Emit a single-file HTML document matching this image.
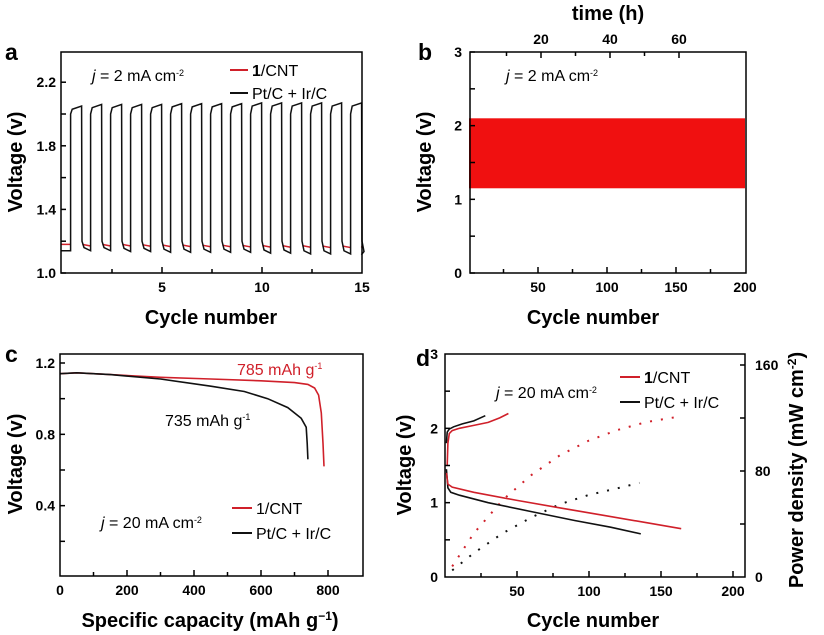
<!DOCTYPE html>
<html><head><meta charset="utf-8"><style>
body{margin:0;background:#fff}
svg{display:block;font-family:"Liberation Sans",Arial,sans-serif}
.t{font-weight:bold;font-size:14px}
.lab{font-weight:bold;font-size:20px}
.pl{font-weight:bold;font-size:23px}
.lg{font-size:16px}
</style></head><body>
<svg id="fig" width="824" height="635" viewBox="0 0 824 635" xmlns="http://www.w3.org/2000/svg"></svg>
<script>
// ---- Panel a data ----
const aCycles=[1,2,3,4,5,6,7,8,9,10,11,12,13,14,15];
const aBlackCharge=[2.05,2.06,2.06,2.06,2.06,2.065,2.065,2.065,2.065,2.07,2.07,2.07,2.07,2.07,2.07];
const aBlackDis=[1.14,1.14,1.135,1.135,1.13,1.13,1.13,1.13,1.13,1.125,1.125,1.12,1.12,1.12,1.115];
const aRedDis=[1.17,1.17,1.17,1.168,1.166,1.166,1.165,1.165,1.164,1.163,1.162,1.162,1.16,1.16,1.16];
const aYTicks=[1.0,1.4,1.8,2.2];
const aXTicks=[5,10,15];
// ---- Panel b data ----
const bBandLow=1.15, bBandHigh=2.1, bCycles=200;
const bYTicks=[0,1,2,3];
const bXTicks=[50,100,150,200];
const bTimeTicks=[20,40,60];
// ---- Panel c data ----
const cRedX=[0,50,150,300,450,600,700,740,760,772,780,785,788];
const cRedY=[1.14,1.145,1.135,1.12,1.11,1.1,1.09,1.08,1.06,1.02,0.92,0.75,0.62];
const cBlackX=[0,50,150,300,450,550,620,680,720,735,738,740];
const cBlackY=[1.14,1.145,1.135,1.11,1.07,1.04,1.0,0.95,0.89,0.84,0.75,0.66];
const cYTicks=[0.4,0.8,1.2];
const cXTicks=[0,200,400,600,800];
// ---- Panel d data ----
const dRedChgX=[1.5,2,3,5,10,20,30,38,44];
const dRedChgY=[1.5,1.8,1.93,1.97,2.0,2.04,2.08,2.14,2.2];
const dBlkChgX=[1,1.5,3,6,12,20,28];
const dBlkChgY=[1.8,1.95,1.99,2.02,2.06,2.1,2.17];
const dRedDisX=[1,2,5,20,50,80,110,140,164];
const dRedDisY=[1.4,1.25,1.21,1.14,1.03,0.93,0.83,0.73,0.65];
const dBlkDisX=[1,2,4,10,30,60,90,115,136];
const dBlkDisY=[1.45,1.2,1.14,1.1,1.0,0.88,0.76,0.67,0.58];
const dRedPowX=[5,20,40,60,80,100,120,140,162];
const dRedPowY=[8,33,58,77,92,103,111,117,121];
const dBlkPowX=[5,20,40,60,80,100,120,135];
const dBlkPowY=[5,18,33,45,55,62,67,71];
const dYTicks=[0,1,2,3];
const dY2Ticks=[0,80,160];
const dXTicks=[50,100,150,200];

const svg=document.getElementById('fig');
const NS='http://www.w3.org/2000/svg';
function el(tag,attrs,parent,text){const e=document.createElementNS(NS,tag);for(const k in attrs)e.setAttribute(k,attrs[k]);if(text!==undefined)e.textContent=text;(parent||svg).appendChild(e);return e;}
function lin(d0,d1,p0,p1){return v=>p0+(v-d0)*(p1-p0)/(d1-d0);}
function pathD(xs,ys,sx,sy){return xs.map((x,i)=>(i?'L':'M')+sx(x).toFixed(1)+','+sy(ys[i]).toFixed(1)).join('');}
const RED='#d0202a';

// ===== Panel a =====
{
const L=61,R=362,T=52,B=273;
const sx=lin(0,15,62,362), sy=lin(1.0,2.39,273,52);
const g=el('g',{},svg);

let pb='M'+L+','+sy(1.14), pr='M'+L+','+sy(1.18)+'L'+sx(0.43)+','+sy(1.18);
pb+='L'+sx(0.43)+','+sy(1.14);
aCycles.forEach((c,i)=>{
 const s=c-0.57, e=s+0.55, n=c+0.43;
 const v=aBlackCharge[i];
 pb+='L'+sx(s)+','+sy(2.0)+'L'+sx(s+0.08)+','+sy(v-0.02)+'L'+sx(e)+','+sy(v);
 const end=Math.min(n,14.97);
 pb+='L'+sx(e+0.02)+','+sy(1.2)+'L'+sx(e+0.12)+','+sy(aBlackDis[i]+0.02)+'L'+sx(end)+','+sy(aBlackDis[i]);
 pr+='M'+sx(e+0.04)+','+sy(aRedDis[i]+0.01)+'L'+sx(end)+','+sy(aRedDis[i]);
});
const r=el('path',{d:pr,fill:'none',stroke:RED,'stroke-width':1.5},g);

const b=el('path',{d:pb,fill:'none',stroke:'#111','stroke-width':1.5},g);

el('rect',{x:L,y:T,width:R-L,height:B-T,fill:'none',stroke:'#000','stroke-width':1.5},g);
[1.0,1.2,1.4,1.6,1.8,2.0,2.2].forEach(v=>el('line',{x1:L,x2:L+5,y1:sy(v),y2:sy(v),stroke:'#000','stroke-width':1.5},g));
aYTicks.forEach(v=>el('text',{x:L-5,y:sy(v)+5,'text-anchor':'end',class:'t'},g,v.toFixed(1)));
[2.5,5,7.5,10,12.5].forEach(v=>el('line',{x1:sx(v),x2:sx(v),y1:B,y2:B-(v%5===0?6:4),stroke:'#000','stroke-width':1.5},g));
aXTicks.forEach(v=>el('text',{x:sx(v),y:B+19,'text-anchor':'middle',class:'t'},g,v));
el('text',{x:211,y:324,'text-anchor':'middle',class:'lab'},g,'Cycle number');
el('text',{x:0,y:0,transform:'translate(22,162) rotate(-90)','text-anchor':'middle',class:'lab'},g,'Voltage (v)');
el('text',{x:5,y:60,class:'pl'},g,'a');
const j=el('text',{x:92,y:81,class:'lg','font-size':'14'},g);j.innerHTML='<tspan font-style="italic">j</tspan> = 2 mA cm<tspan dy="-5" font-size="9">-2</tspan>';
el('line',{x1:230,x2:248,y1:70,y2:70,stroke:RED,'stroke-width':2},g);
const t1=el('text',{x:252,y:76,class:'lg'},g);t1.innerHTML='<tspan font-weight="bold">1</tspan>/CNT';
el('line',{x1:230,x2:248,y1:93,y2:93,stroke:'#111','stroke-width':2},g);
el('text',{x:252,y:99,class:'lg'},g,'Pt/C + Ir/C');
}

// ===== Panel b =====
{
const L=470,R=746,T=52,B=273;
const sx=lin(0,200,469,745), sy=lin(0,3,273,52), st=lin(0,20,472,541);
const g=el('g',{},svg);

const band=el('rect',{x:sx(0),y:sy(bBandHigh),width:sx(bCycles)-sx(0),height:sy(bBandLow)-sy(bBandHigh),fill:'#f01010'},g);

el('rect',{x:L,y:T,width:R-L,height:B-T,fill:'none',stroke:'#000','stroke-width':1.5},g);
[0,0.5,1,1.5,2,2.5,3].forEach(v=>el('line',{x1:L,x2:L+5,y1:sy(v),y2:sy(v),stroke:'#000','stroke-width':1.5},g));
bYTicks.forEach(v=>el('text',{x:L-8,y:sy(v)+5,'text-anchor':'end',class:'t'},g,v));
[25,50,75,100,125,150,175].forEach(v=>el('line',{x1:sx(v),x2:sx(v),y1:B,y2:B-(v%50===0?6:4),stroke:'#000','stroke-width':1.5},g));
bXTicks.forEach(v=>el('text',{x:sx(v),y:B+19,'text-anchor':'middle',class:'t'},g,v));
[10,20,30,40,50,60].forEach(v=>el('line',{x1:st(v),x2:st(v),y1:T,y2:T+(v%20===0?6:4),stroke:'#000','stroke-width':1.5},g));
bTimeTicks.forEach(v=>el('text',{x:st(v),y:T-8,'text-anchor':'middle',class:'t'},g,v));
el('text',{x:608,y:20,'text-anchor':'middle',class:'lab','font-size':'18'},g,'time (h)');
el('text',{x:593,y:324,'text-anchor':'middle',class:'lab'},g,'Cycle number');
el('text',{x:0,y:0,transform:'translate(431,162) rotate(-90)','text-anchor':'middle',class:'lab'},g,'Voltage (v)');
el('text',{x:418,y:60,class:'pl'},g,'b');
const j=el('text',{x:506,y:81,class:'lg','font-size':'14'},g);j.innerHTML='<tspan font-style="italic">j</tspan> = 2 mA cm<tspan dy="-5" font-size="9">-2</tspan>';
}

// ===== Panel c =====
{
const L=60,R=363,T=354,B=576;
const sx=lin(0,200,60,127), sy=lin(0,1.2,577,363);
const g=el('g',{},svg);

const r=el('path',{d:pathD(cRedX,cRedY,sx,sy),fill:'none',stroke:RED,'stroke-width':1.6},g);

const b=el('path',{d:pathD(cBlackX,cBlackY,sx,sy),fill:'none',stroke:'#111','stroke-width':1.6},g);

el('rect',{x:L,y:T,width:R-L,height:B-T,fill:'none',stroke:'#000','stroke-width':1.5},g);
[0.2,0.4,0.6,0.8,1.0,1.2].forEach(v=>el('line',{x1:L,x2:L+5,y1:sy(v),y2:sy(v),stroke:'#000','stroke-width':1.5},g));
cYTicks.forEach(v=>el('text',{x:L-5,y:sy(v)+5,'text-anchor':'end',class:'t'},g,v.toFixed(1)));
[100,200,300,400,500,600,700,800].forEach(v=>el('line',{x1:sx(v),x2:sx(v),y1:B,y2:B-(v%200===0?6:4),stroke:'#000','stroke-width':1.5},g));
cXTicks.forEach(v=>el('text',{x:sx(v),y:B+19,'text-anchor':'middle',class:'t'},g,v));
const xl=el('text',{x:210,y:627,'text-anchor':'middle',class:'lab'},g);xl.innerHTML='Specific capacity (mAh g<tspan dy="-7" font-size="12">−1</tspan><tspan dy="7">)</tspan>';
el('text',{x:0,y:0,transform:'translate(22,464) rotate(-90)','text-anchor':'middle',class:'lab'},g,'Voltage (v)');
el('text',{x:5,y:362,class:'pl'},g,'c');
const a1=el('text',{x:237,y:375,class:'lg',fill:RED,'font-size':'15'},g);a1.innerHTML='785 mAh g<tspan dy="-6" font-size="9">-1</tspan>';
const a2=el('text',{x:165,y:426,class:'lg','font-size':'15'},g);a2.innerHTML='735 mAh g<tspan dy="-6" font-size="9">-1</tspan>';
const j=el('text',{x:101,y:528,class:'lg','font-size':'14'},g);j.innerHTML='<tspan font-style="italic">j</tspan> = 20 mA cm<tspan dy="-5" font-size="9">-2</tspan>';
el('line',{x1:232,x2:252,y1:508,y2:508,stroke:RED,'stroke-width':2},g);
el('text',{x:256,y:514,class:'lg'},g,'1/CNT');
el('line',{x1:232,x2:252,y1:533,y2:533,stroke:'#111','stroke-width':2},g);
el('text',{x:256,y:539,class:'lg'},g,'Pt/C + Ir/C');
}

// ===== Panel d =====
{
const L=445,R=745,T=354,B=577;
const sx=lin(0,50,445,517), sy=lin(0,3,577,354), sp=lin(0,160,577,365);
const g=el('g',{},svg);

const s1=el('path',{d:pathD(dRedPowX,dRedPowY,sx,sp),fill:'none',stroke:RED,'stroke-width':2,'stroke-dasharray':'2 9'},g);

const s2=el('path',{d:pathD(dBlkPowX,dBlkPowY,sx,sp),fill:'none',stroke:'#111','stroke-width':2,'stroke-dasharray':'2 9'},g);

const s3=el('path',{d:pathD(dBlkDisX,dBlkDisY,sx,sy),fill:'none',stroke:'#111','stroke-width':1.6},g);

const s4=el('path',{d:pathD(dRedDisX,dRedDisY,sx,sy),fill:'none',stroke:RED,'stroke-width':1.6},g);

const s5=el('path',{d:pathD(dBlkChgX,dBlkChgY,sx,sy),fill:'none',stroke:'#111','stroke-width':1.6},g);

const s6=el('path',{d:pathD(dRedChgX,dRedChgY,sx,sy),fill:'none',stroke:RED,'stroke-width':1.6},g);

el('rect',{x:L,y:T,width:R-L,height:B-T,fill:'none',stroke:'#000','stroke-width':1.5},g);
[0.5,1,1.5,2,2.5].forEach(v=>el('line',{x1:L,x2:L+5,y1:sy(v),y2:sy(v),stroke:'#000','stroke-width':1.5},g));
dYTicks.forEach(v=>el('text',{x:L-7,y:sy(v)+5,'text-anchor':'end',class:'t'},g,v));
[40,80,120,160].forEach(v=>el('line',{x1:R,x2:R-5,y1:sp(v),y2:sp(v),stroke:'#000','stroke-width':1.5},g));
dY2Ticks.forEach(v=>el('text',{x:R+10,y:sp(v)+5,'text-anchor':'start',class:'t'},g,v));
[25,50,75,100,125,150,175,200].forEach(v=>el('line',{x1:sx(v),x2:sx(v),y1:B,y2:B-(v%50===0?6:4),stroke:'#000','stroke-width':1.5},g));
dXTicks.forEach(v=>el('text',{x:sx(v),y:B+19,'text-anchor':'middle',class:'t'},g,v));
el('text',{x:593,y:627,'text-anchor':'middle',class:'lab'},g,'Cycle number');
el('text',{x:0,y:0,transform:'translate(411,465) rotate(-90)','text-anchor':'middle',class:'lab'},g,'Voltage (v)');
const y2=el('text',{x:0,y:0,transform:'translate(803,470) rotate(-90)','text-anchor':'middle',class:'lab'},g);y2.innerHTML='Power density (mW cm<tspan dy="-7" font-size="12">-2</tspan><tspan dy="7">)</tspan>';
el('text',{x:416,y:366,class:'pl'},g,'d');
const j=el('text',{x:496,y:398,class:'lg','font-size':'14'},g);j.innerHTML='<tspan font-style="italic">j</tspan> = 20 mA cm<tspan dy="-5" font-size="9">-2</tspan>';
el('line',{x1:620,x2:640,y1:377,y2:377,stroke:RED,'stroke-width':2},g);
const t1=el('text',{x:644,y:383,class:'lg'},g);t1.innerHTML='<tspan font-weight="bold">1</tspan>/CNT';
el('line',{x1:620,x2:640,y1:402,y2:402,stroke:'#111','stroke-width':2},g);
el('text',{x:644,y:408,class:'lg'},g,'Pt/C + Ir/C');
}
</script>
</body></html>
